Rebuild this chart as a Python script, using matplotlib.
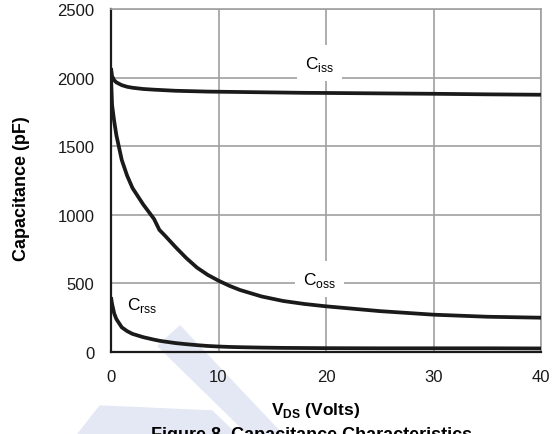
import matplotlib.pyplot as plt
from matplotlib.patches import Polygon

plt.rcParams["font.family"] = ["Liberation Sans", "DejaVu Sans"]
plt.rcParams["mathtext.fontset"] = "custom"
plt.rcParams["mathtext.rm"] = "Liberation Sans"
plt.rcParams["mathtext.bf"] = "Liberation Sans:bold"

# Capacitance vs drain-source voltage
vds = [0, 0.1, 0.3, 0.5, 1, 1.5, 2, 3, 4, 4.5, 5, 6, 7, 8, 9, 10, 11, 12, 14, 16,
       18, 20, 25, 30, 35, 40]
ciss = [2070, 2010, 1980, 1965, 1945, 1933, 1926, 1917, 1912, 1910, 1908, 1904, 1902,
        1900, 1898, 1897, 1896, 1895, 1893, 1891, 1889, 1888, 1885, 1882, 1878, 1875]
coss = [2010, 1800, 1680, 1580, 1400, 1285, 1195, 1075, 970, 890, 850, 765, 685,
        615, 562, 520, 483, 452, 405, 372, 350, 333, 298, 272, 257, 250]
crss = [400, 350, 280, 240, 180, 152, 132, 108, 90, 82, 76, 65, 57,
        50, 44, 40, 37, 35, 32, 30, 29, 28, 27, 27, 27, 26]

x_ticks = [0, 10, 20, 30, 40]
y_ticks = [0, 500, 1000, 1500, 2000, 2500]

W, H = 555, 435
fig = plt.figure(figsize=(W / 100, H / 100), dpi=100)
ax = fig.add_axes([111 / W, 1 - 353 / H, 430 / W, 343 / H])
ax.set_facecolor("none")


def px(x, y):
    return (x / W, 1 - y / H)


# faint watermark behind the plot
wm = "#e4e8f4"
fig.patches.append(Polygon([px(158, 347), px(180, 327), px(282, 435), px(248, 435)],
                           closed=True, transform=fig.transFigure, color=wm, zorder=-5))
fig.patches.append(Polygon([px(100, 407), px(212, 412), px(236, 435), px(78, 435)],
                           closed=True, transform=fig.transFigure, color=wm, zorder=-5))

for y in [ciss, coss, crss]:
    ax.plot(vds, y, color="#1a1a1a", lw=2.7, solid_capstyle="butt", zorder=3)

ax.set_xlim(0, 40)
ax.set_ylim(0, 2500)
ax.set_xticks(x_ticks)
ax.set_yticks(y_ticks)
ax.grid(True, color="#a0a0a0", lw=1.2)
ax.tick_params(length=0, labelsize=12, colors="#1a1a1a", pad=12)

for s in ["top", "right"]:
    ax.spines[s].set_color("#a0a0a0")
    ax.spines[s].set_linewidth(1.2)
for s in ["left", "bottom"]:
    ax.spines[s].set_color("#1a1a1a")
    ax.spines[s].set_linewidth(1.6)

box = dict(facecolor="white", edgecolor="none", pad=6)
ax.text(19.4, 2105, r"C$_\mathregular{iss}$", ha="center", va="center",
        fontsize=12.5, bbox=box, zorder=4)
ax.text(19.4, 530, r"C$_\mathregular{oss}$", ha="center", va="center",
        fontsize=12.5, bbox=box, zorder=4)
ax.text(2.9, 345, r"C$_\mathregular{rss}$", ha="center", va="center",
        fontsize=12.5, zorder=4)

fig.text(22 / W, 1 - 189 / H, "Capacitance (pF)", rotation=90, ha="center",
         va="center", fontsize=13, fontweight="bold")
fig.text(316 / W, 1 - 411 / H, r"V$_\mathbf{DS}$ (Volts)", ha="center",
         va="center", fontsize=12.5, fontweight="bold")
# caption sits at the lower edge and is cut off there, as in the source image
fig.text(312 / W, 1 - 427 / H, "Figure 8. Capacitance Characteristics",
         ha="center", va="top", fontsize=13, fontweight="bold")

fig.savefig("out.png", dpi=100)
